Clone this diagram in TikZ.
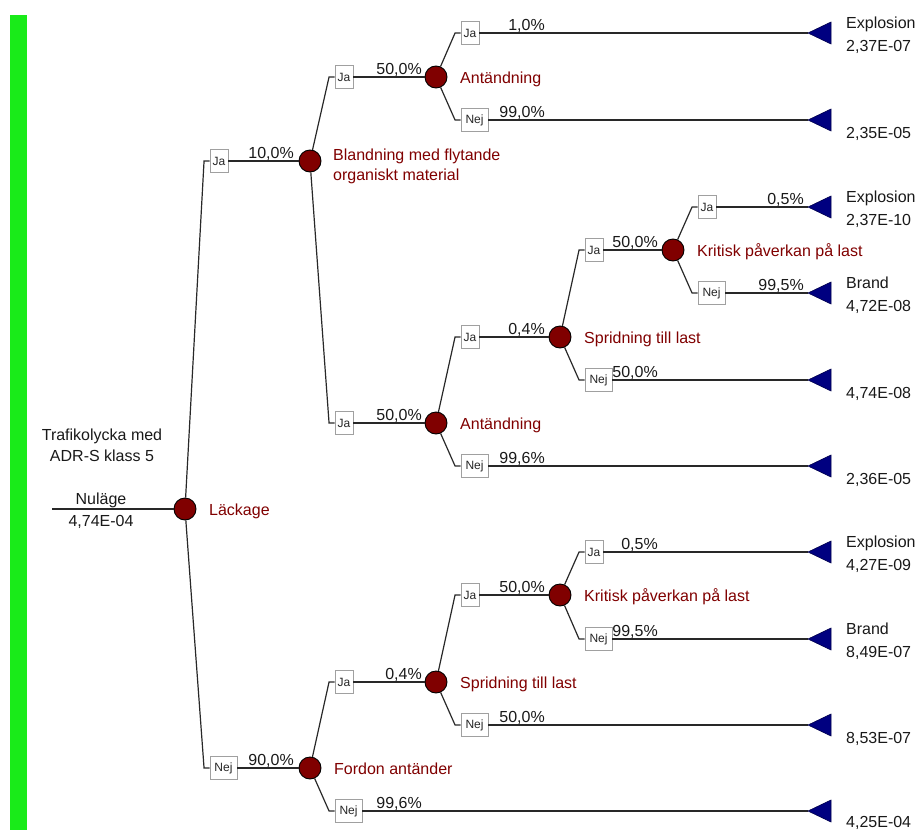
\documentclass[tikz,border=0pt]{standalone}
\usepackage{fontspec}
\setmainfont{Liberation Sans}
\definecolor{maroonc}{RGB}{128,0,0}
\definecolor{navyc}{RGB}{0,0,128}
\definecolor{linec}{RGB}{40,40,40}
\definecolor{boxc}{RGB}{160,160,160}
\definecolor{greenbar}{RGB}{25,235,25}
\begin{document}
\begin{tikzpicture}[x=1pt,y=-1pt,
  chance/.style={circle,fill=maroonc,draw=black,line width=0.9pt,minimum size=22pt,inner sep=0pt},
  jabox/.style={draw=boxc,fill=white,line width=0.9pt,minimum width=18pt,minimum height=23pt,inner sep=0pt,font=\fontsize{12}{14}\selectfont,text=black!85},
  nejbox/.style={jabox,minimum width=27pt},
  conn/.style={draw=linec,line width=1.2pt},
  prob/.style={anchor=base east,inner sep=0pt,font=\fontsize{16}{19}\selectfont,text=black!90},
  evlab/.style={anchor=base west,inner sep=0pt,font=\fontsize{16}{19}\selectfont,text=maroonc},
  tlab/.style={anchor=base west,inner sep=0pt,font=\fontsize{16}{19}\selectfont,text=black!90},
  rlab/.style={anchor=base,inner sep=0pt,font=\fontsize{16}{19}\selectfont,text=black!90},
  term/.style={fill=navyc,draw=navyc!60!black,line width=0.6pt}
]
\useasboundingbox (0,0) rectangle (919,830);
\fill[greenbar] (10,15) rectangle (27,830);

% chance nodes
\node[chance] (c0) at (185,509) {};
\node[chance] (c1) at (310,161) {};
\node[chance] (c2) at (310,768) {};
\node[chance] (c3) at (436,77) {};
\node[chance] (c4) at (436,423) {};
\node[chance] (c5) at (560,337) {};
\node[chance] (c6) at (673,250) {};
\node[chance] (c7) at (436,682) {};
\node[chance] (c8) at (560,595) {};

% event labels
\node[evlab] (l0) at (209,515) {Läckage};
\node[evlab] (l1a) at (333,160) {Blandning med flytande};
\node[evlab] (l1b) at (333,180) {organiskt material};
\node[evlab] (l2) at (334,774) {Fordon antänder};
\node[evlab] (l3) at (460,83) {Antändning};
\node[evlab] (l4) at (460,429) {Antändning};
\node[evlab] (l5) at (584,343) {Spridning till last};
\node[evlab] (l6) at (697,256) {Kritisk påverkan på last};
\node[evlab] (l7) at (460,688) {Spridning till last};
\node[evlab] (l8) at (584,601) {Kritisk påverkan på last};

% branch boxes
\node[jabox] (b01) at (219,161) {Ja};
\node[nejbox] (b02) at (223.5,768) {Nej};
\node[jabox] (b11) at (344,77) {Ja};
\node[jabox] (b12) at (344,423) {Ja};
\node[jabox] (b21) at (344,682) {Ja};
\node[nejbox] (b22) at (348.5,811) {Nej};
\node[jabox] (b31) at (470,33) {Ja};
\node[nejbox] (b32) at (474.5,120) {Nej};
\node[jabox] (b41) at (470,337) {Ja};
\node[nejbox] (b42) at (474.5,466) {Nej};
\node[jabox] (b51) at (594,250) {Ja};
\node[nejbox] (b52) at (598.5,380) {Nej};
\node[jabox] (b61) at (707,207) {Ja};
\node[nejbox] (b62) at (711.5,293) {Nej};
\node[jabox] (b71) at (470,595) {Ja};
\node[nejbox] (b72) at (474.5,725) {Nej};
\node[jabox] (b81) at (594,552) {Ja};
\node[nejbox] (b82) at (598.5,639) {Nej};

% terminal tips
\coordinate (t1) at (808,33);
\coordinate (t2) at (808,120);
\coordinate (t3) at (808,207);
\coordinate (t4) at (808,293);
\coordinate (t5) at (808,380);
\coordinate (t6) at (808,466);
\coordinate (t7) at (808,552);
\coordinate (t8) at (808,639);
\coordinate (t9) at (808,725);
\coordinate (t10) at (808,811);
\coordinate (root) at (52,509);

% connectors: parent -> elbow -> box
\foreach \p/\b in {c0/b01,c0/b02,c1/b11,c1/b12,c2/b21,c2/b22,c3/b31,c3/b32,c4/b41,c4/b42,c5/b51,c5/b52,c6/b61,c6/b62,c7/b71,c7/b72,c8/b81,c8/b82}{
  \draw[conn] (\p) -- ([xshift=-5.5pt]\b.west) -- (\b.west);
}
% box -> child
\foreach \b/\c in {b01/c1,b02/c2,b11/c3,b12/c4,b21/c7,b41/c5,b51/c6,b71/c8,
  b31/t1,b32/t2,b61/t3,b62/t4,b52/t5,b42/t6,b81/t7,b82/t8,b72/t9,b22/t10}{
  \draw[conn] (\b.east) -- (\c);
}
\draw[conn] (root) -- (c0);

% terminal triangles
\foreach \t in {t1,t2,t3,t4,t5,t6,t7,t8,t9,t10}{
  \path[term] (\t) -- ++(23,-11) -- ++(0,22) -- cycle;
}

% probabilities
\node[prob] (p01) at (294,158) {10,0\%};
\node[prob] (p02) at (294,765) {90,0\%};
\node[prob] (p11) at (422,74) {50,0\%};
\node[prob] (p12) at (422,420) {50,0\%};
\node[prob] (p21) at (422,679) {0,4\%};
\node[prob] (p22) at (422,808) {99,6\%};
\node[prob] (p31) at (545,30) {1,0\%};
\node[prob] (p32) at (545,117) {99,0\%};
\node[prob] (p41) at (545,334) {0,4\%};
\node[prob] (p42) at (545,463) {99,6\%};
\node[prob] (p71) at (545,592) {50,0\%};
\node[prob] (p72) at (545,722) {50,0\%};
\node[prob] (p51) at (658,247) {50,0\%};
\node[prob] (p52) at (658,377) {50,0\%};
\node[prob] (p81) at (658,549) {0,5\%};
\node[prob] (p82) at (658,636) {99,5\%};
\node[prob] (p61) at (804,204) {0,5\%};
\node[prob] (p62) at (804,290) {99,5\%};

% terminal labels
\node[tlab] (e1a) at (846,28.5) {Explosion};
\node[tlab] (e1b) at (846,51.5) {2,37E-07};
\node[tlab] (e2) at (846,138) {2,35E-05};
\node[tlab] (e3a) at (846,202.5) {Explosion};
\node[tlab] (e3b) at (846,225.5) {2,37E-10};
\node[tlab] (e4a) at (846,288.5) {Brand};
\node[tlab] (e4b) at (846,311.5) {4,72E-08};
\node[tlab] (e5) at (846,398) {4,74E-08};
\node[tlab] (e6) at (846,484) {2,36E-05};
\node[tlab] (e7a) at (846,547.5) {Explosion};
\node[tlab] (e7b) at (846,570.5) {4,27E-09};
\node[tlab] (e8a) at (846,634.5) {Brand};
\node[tlab] (e8b) at (846,657.5) {8,49E-07};
\node[tlab] (e9) at (846,743) {8,53E-07};
\node[tlab] (e10) at (846,827) {4,25E-04};

% root labels
\node[rlab] (ra) at (102,440) {Trafikolycka med};
\node[rlab] (rb) at (102,461) {ADR-S klass 5};
\node[rlab] (rc) at (101,504) {Nuläge};
\node[rlab] (rd) at (101,526.5) {4,74E-04};
\end{tikzpicture}
\end{document}
